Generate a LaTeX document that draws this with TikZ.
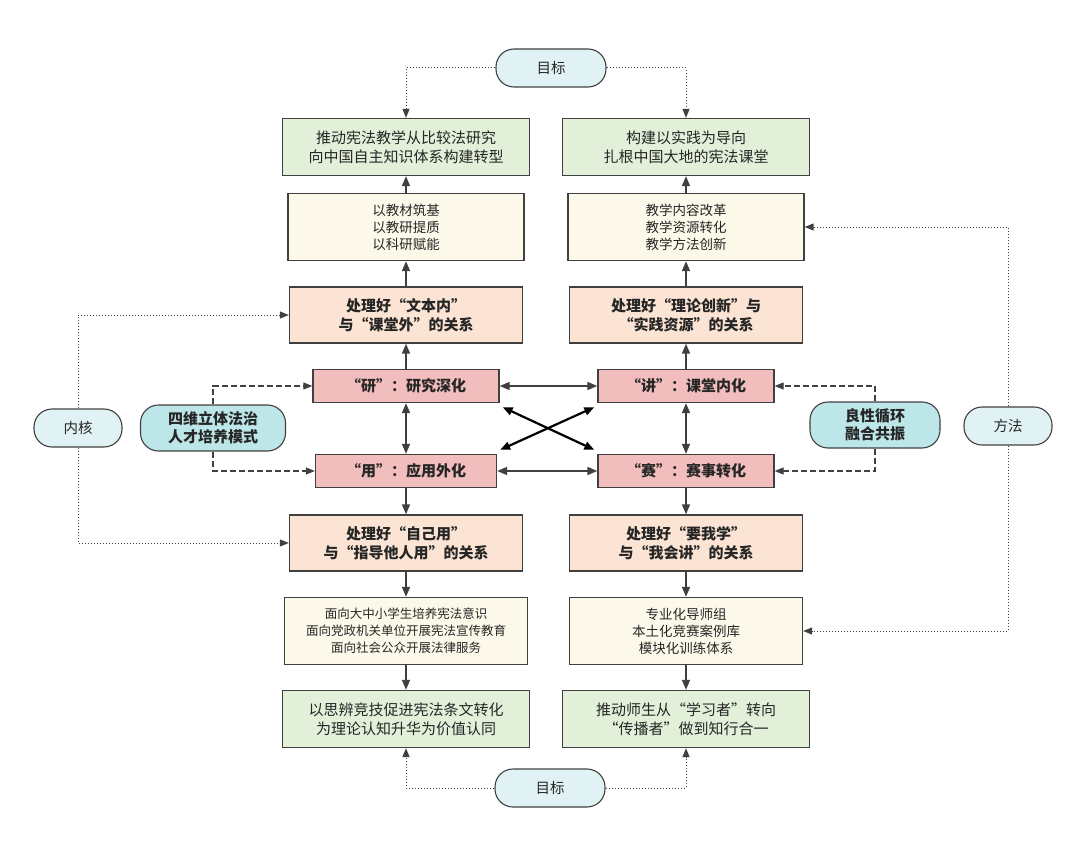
\documentclass[tikz,border=0pt]{standalone}
\usepackage{fontspec}
\setmainfont{Noto Sans CJK SC}
\usetikzlibrary{arrows.meta,calc}
\definecolor{gr}{HTML}{E2F0D9}
\definecolor{cr}{HTML}{FDF9EA}
\definecolor{pe}{HTML}{FBE4D3}
\definecolor{pk}{HTML}{F2BDBD}
\definecolor{tl}{HTML}{BDE6E8}
\definecolor{lt}{HTML}{E0F2F3}
\definecolor{ln}{HTML}{404040}
\begin{document}
\begin{tikzpicture}[x=1pt,y=-1pt,
 every node/.style={text=black!85,font=\fontsize{14.5}{18}\selectfont,align=center},
 box/.style={draw=ln,line width=1.3pt,minimum width=#1,inner sep=2pt},
 g/.style={box=247,fill=gr,minimum height=57,font=\fontsize{15}{19}\selectfont},
 c/.style={box=236,fill=cr,minimum height=67,font=\fontsize{13.5}{17}\selectfont},
 p/.style={box=233,fill=pe,minimum height=56,font=\bfseries\fontsize{15}{19}\selectfont},
 k/.style={box=#1,fill=pk,minimum height=33,font=\bfseries\fontsize{15}{18}\selectfont},
 pill/.style={draw=ln,line width=1.1pt,rounded corners=18pt,minimum width=#1,minimum height=38},
 ar/.style={-{Triangle[length=10pt,width=8pt]},ln,line width=1.5pt},
 dar/.style={{Triangle[length=10pt,width=8pt]}-{Triangle[length=10pt,width=8pt]},ln,line width=1.5pt},
 dot/.style={-{Triangle[length=9pt,width=7pt]},ln,line width=1pt,dotted},
 dsh/.style={-{Triangle[length=9pt,width=7pt]},ln,line width=1.1pt,dash pattern=on 6pt off 3pt}]
\useasboundingbox (0,0) rectangle (1080,843);
\node[pill=110,fill=lt] (mt) at (551,68) {目标};
\node[pill=110,fill=lt] (mb) at (550,788) {目标};
\node[g] (L1) at (406,147) {推动宪法教学从比较法研究\\向中国自主知识体系构建转型};
\node[g] (R1) at (686,147) {构建以实践为导向\\扎根中国大地的宪法课堂};
\node[c] (L2) at (406,227) {以教材筑基\\以教研提质\\以科研赋能};
\node[c] (R2) at (686,227) {教学内容改革\\教学资源转化\\教学方法创新};
\node[p] (L3) at (406,315) {处理好“文本内”\\与“课堂外”的关系};
\node[p] (R3) at (686,315) {处理好“理论创新”与\\“实践资源”的关系};
\node[k=186] (Y) at (406,386) {“研”：研究深化};
\node[k=176] (J) at (686,386) {“讲”：课堂内化};
\node[k=181] (U) at (406,471) {“用”：应用外化};
\node[k=176] (S) at (686,471) {“赛”：赛事转化};
\node[p] (L4) at (406,543) {处理好“自己用”\\与“指导他人用”的关系};
\node[p] (R4) at (686,543) {处理好“要我学”\\与“我会讲”的关系};
\node[c,minimum width=243,font=\fontsize{12.5}{17}\selectfont] (L5) at (406,631) {面向大中小学生培养宪法意识\\面向党政机关单位开展宪法宣传教育\\面向社会公众开展法律服务};
\node[c,minimum width=233] (R5) at (686,631) {专业化导师组\\本土化竞赛案例库\\模块化训练体系};
\node[g] (L6) at (406,719) {以思辨竞技促进宪法条文转化\\为理论认知升华为价值认同};
\node[g] (R6) at (686,719) {推动师生从“学习者”转向\\“传播者”做到知行合一};
\node[pill=88,fill=lt] (nh) at (78,428) {内核};
\node[pill=145,fill=tl,minimum height=46,font=\bfseries\fontsize{15}{18}\selectfont] (sw) at (213,428) {四维立体法治\\人才培养模式};
\node[pill=130,fill=tl,minimum height=46,font=\bfseries\fontsize{15}{18}\selectfont] (lx) at (875,425) {良性循环\\融合共振};
\node[pill=88,fill=lt] (ff) at (1008,426) {方法};
% vertical flow
\draw[ar] (L2)--(L1); \draw[ar] (L3)--(L2); \draw[ar] (Y)--(L3);
\draw[dar] (Y)--(U); \draw[ar] (U)--(L4); \draw[ar] (L4)--(L5); \draw[ar] (L5)--(L6);
\draw[ar] (R2)--(R1); \draw[ar] (R3)--(R2); \draw[ar] (J)--(R3);
\draw[dar] (J)--(S); \draw[ar] (S)--(R4); \draw[ar] (R4)--(R5); \draw[ar] (R5)--(R6);
\draw[dar] (Y)--(J); \draw[dar] (U)--(S);
\draw[dar,black,line width=2.2pt] (Y.south east)++(3,4) -- ($(S.north west)+(-3,-4)$);
\draw[dar,black,line width=2.2pt] (U.north east)++(3,-4) -- ($(J.south west)+(-3,4)$);
% goals
\draw[dot] (mt.west) -| (L1.north);
\draw[dot] (mt.east) -| (R1.north);
\draw[dot] (mb.west) -| (L6.south);
\draw[dot] (mb.east) -| (R6.south);
% core / method
\draw[dot] (nh.north) |- (L3.west);
\draw[dot] (nh.south) |- (L4.west);
\draw[dot] (ff.north) |- (R2.east);
\draw[dot] (ff.south) |- (R5.east);
% dashed
\draw[dsh] (sw.north) |- (Y.west);
\draw[dsh] (sw.south) |- (U.west);
\draw[dsh] (lx.north) |- (J.east);
\draw[dsh] (lx.south) |- (S.east);
\end{tikzpicture}
\end{document}
